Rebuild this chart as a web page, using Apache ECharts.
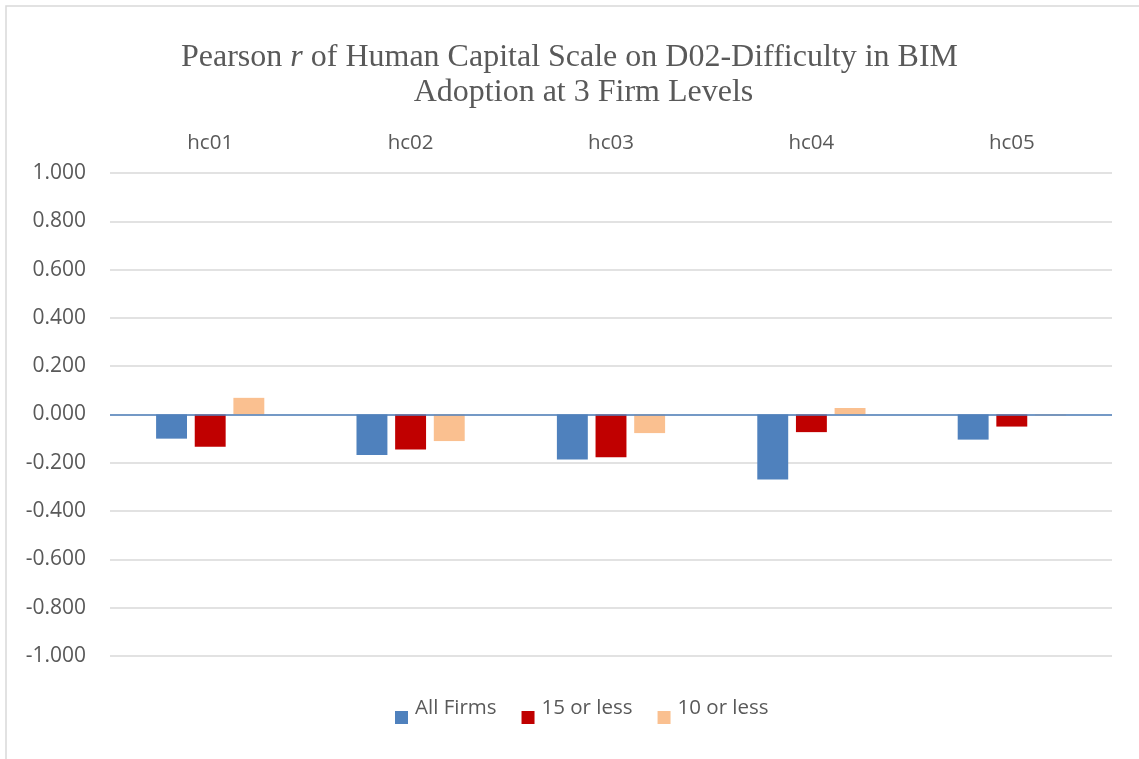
<!DOCTYPE html>
<html>
<head>
<meta charset="utf-8">
<script src="https://cdn.jsdelivr.net/npm/echarts@6/dist/echarts.min.js"></script>
<style>
  html, body { margin: 0; padding: 0; background: #fff; }
  #chart { width: 1139px; height: 759px; }
</style>
</head>
<body>
<div id="chart"></div>
<script>
// Human capital scale items
const categories = ['hc01', 'hc02', 'hc03', 'hc04', 'hc05'];

// Pearson r by firm level
const allFirms = [-0.100, -0.168, -0.186, -0.269, -0.104];
const fifteenOrLess = [-0.134, -0.145, -0.177, -0.073, -0.050];
const tenOrLess = [0.069, -0.110, -0.077, 0.027, -0.004];

const seriesNames = ['All Firms', '15 or less', '10 or less'];

const yTicks = { min: -1, max: 1, step: 0.2 };

const chart = echarts.init(document.getElementById('chart'));

const textGray = '#595959';
const gridGray = '#d9d9d9';
const sans = 'Open Sans';
const serif = 'Liberation Serif';

const titleRich = {
  n: { fontFamily: serif, fontSize: 32, fontWeight: 'normal', color: textGray, lineHeight: 35 },
  i: { fontFamily: serif, fontSize: 32, fontWeight: 'normal', color: textGray, fontStyle: 'italic', lineHeight: 35 },
  m: { fontFamily: serif, fontSize: 32, fontWeight: 'normal', color: textGray, lineHeight: 35, padding: [0, 0, 0, 28] }
};

// legend swatch: a square sitting low, under the text's midline
const swatch = 'path://M0,0 M0,18 L13,18 L13,31 L0,31 Z';

chart.setOption({
  animation: false,
  backgroundColor: '#fff',
  graphic: [{
    type: 'rect',
    shape: { x: 6, y: 6, width: 1150, height: 770 },
    style: { fill: 'none', stroke: gridGray, lineWidth: 1.5 },
    silent: true
  }],
  title: {
    text: '{n|Pearson }{i|r}{n| of Human Capital Scale on D02-Difficulty in BIM}\n{m|Adoption at 3 Firm Levels}',
    left: 'center',
    top: 40,
    padding: 0,
    textStyle: { fontWeight: 'normal', rich: titleRich }
  },
  legend: {
    top: 693,
    left: 395,
    padding: 0,
    itemWidth: 13,
    itemHeight: 31,
    itemGap: 25,
    icon: swatch,
    textStyle: { fontFamily: sans, fontSize: 20.5, color: textGray, padding: [0, 0, 0, 2] },
    data: seriesNames
  },
  grid: { left: 110, right: 27, top: 173, bottom: 103 },
  xAxis: {
    type: 'category',
    data: categories,
    position: 'top',
    axisLine: { show: false },
    axisTick: { show: false },
    axisLabel: { fontFamily: sans, fontSize: 20.5, color: textGray, margin: 19 }
  },
  yAxis: {
    type: 'value',
    min: yTicks.min,
    max: yTicks.max,
    interval: yTicks.step,
    axisLine: { show: false },
    axisTick: { show: false },
    splitLine: { lineStyle: { color: gridGray, width: 1.5 } },
    axisLabel: {
      fontFamily: sans,
      fontSize: 21,
      color: textGray,
      margin: 24,
      formatter: v => v.toFixed(3)
    }
  },
  series: [
    {
      name: seriesNames[0],
      type: 'bar',
      data: allFirms,
      barGap: '25%',
      barCategoryGap: '46%',
      itemStyle: { color: '#4f81bd' },
      markLine: {
        silent: true,
        symbol: 'none',
        label: { show: false },
        lineStyle: { color: '#4f81bd', width: 1.5, type: 'solid' },
        data: [{ yAxis: 0 }],
        z: 10
      }
    },
    {
      name: seriesNames[1],
      type: 'bar',
      data: fifteenOrLess,
      barGap: '25%',
      barCategoryGap: '46%',
      itemStyle: { color: '#c00000' }
    },
    {
      name: seriesNames[2],
      type: 'bar',
      data: tenOrLess,
      barGap: '25%',
      barCategoryGap: '46%',
      itemStyle: { color: '#fac090' }
    }
  ]
});
</script>
</body>
</html>
